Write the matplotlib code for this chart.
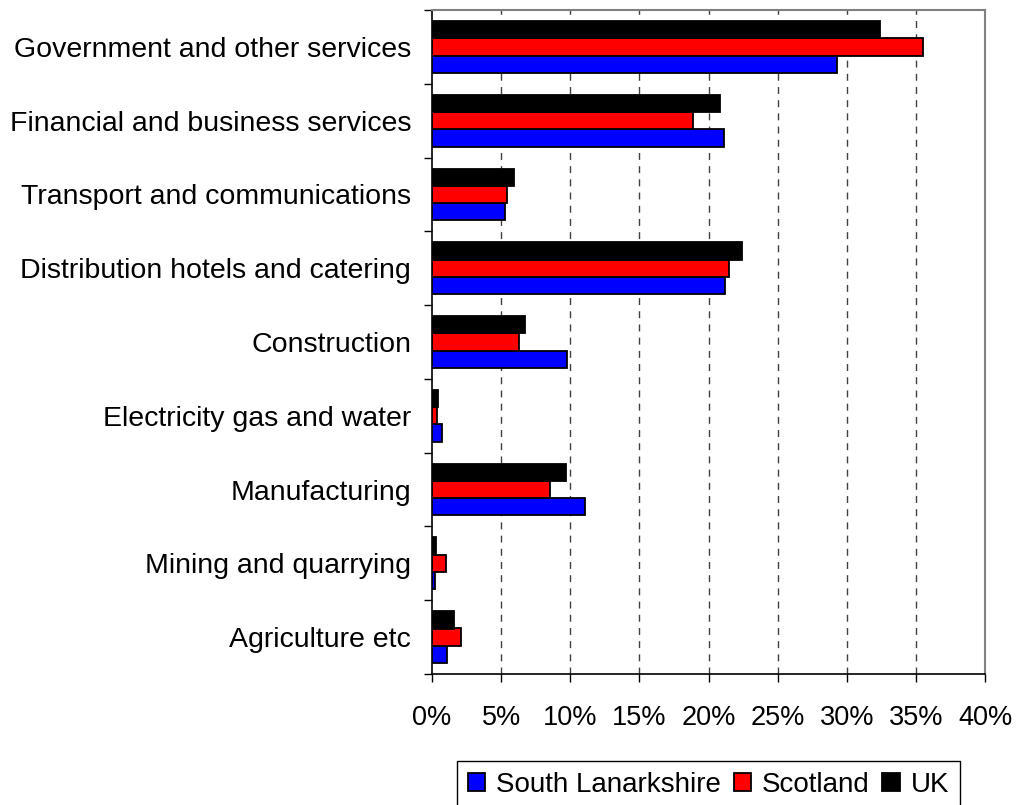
import numpy as np
import matplotlib
matplotlib.use("Agg")
import matplotlib.pyplot as plt
from matplotlib.patches import Patch

plt.rcParams['font.family'] = ['Liberation Sans', 'DejaVu Sans']

# sectors, bottom to top as drawn
sectors = ['Agriculture etc', 'Mining and quarrying', 'Manufacturing',
           'Electricity gas and water', 'Construction',
           'Distribution hotels and catering', 'Transport and communications',
           'Financial and business services', 'Government and other services']

# share of employment, %
south_lanarkshire = [1.1, 0.25, 11.1, 0.7, 9.8, 21.2, 5.3, 21.1, 29.3]
scotland = [2.1, 1.0, 8.5, 0.35, 6.3, 21.5, 5.4, 18.9, 35.5]
uk = [1.6, 0.27, 9.7, 0.4, 6.7, 22.4, 5.9, 20.8, 32.4]

series_names = ['South Lanarkshire', 'Scotland', 'UK']
colors = ['#0000ff', '#ff0000', '#000000']
x_ticks = [0, 5, 10, 15, 20, 25, 30, 35, 40]

fig = plt.figure(figsize=(10.18, 8.05), dpi=100)
ax = fig.add_axes([432 / 1018, 1 - 674 / 805, 553 / 1018, 664 / 805])

y = np.arange(len(sectors))
h = 0.235
for k, (vals, c) in enumerate(zip([south_lanarkshire, scotland, uk], colors)):
    ax.barh(y + (k - 1) * 0.233, vals, height=h, color=c,
            edgecolor='black', linewidth=1.3, zorder=3)

ax.set_xlim(0, 40)
ax.set_ylim(-0.5, len(sectors) - 0.5)

ax.set_xticks(x_ticks)
ax.set_xticklabels([f'{t}%' for t in x_ticks], fontsize=19.5)
ax.tick_params(axis='x', direction='out', length=6, width=1, pad=16)

ax.set_yticks(y)
ax.set_yticklabels(sectors, fontsize=20.5)
ax.tick_params(axis='y', which='major', length=0, pad=15)
ax.set_yticks(np.arange(-0.5, len(sectors), 1.0), minor=True)
ax.tick_params(axis='y', which='minor', direction='out', length=6, width=1)

for t in x_ticks[1:-1]:
    ax.axvline(t, color='#404040', linewidth=1.0, linestyle=(0, (5, 4.5)), zorder=1)

for s in ['left', 'bottom']:
    ax.spines[s].set_color('black')
    ax.spines[s].set_linewidth(1.2)
for s in ['top', 'right']:
    ax.spines[s].set_color('#808080')
    ax.spines[s].set_linewidth(1.5)

handles = [Patch(facecolor=c, edgecolor='black', linewidth=1.3) for c in colors]
leg = fig.legend(handles, series_names, loc='upper left',
                 bbox_to_anchor=(457 / 1018, 1 - 761 / 805), ncol=3,
                 fontsize=20, handlelength=0.62, handleheight=0.62,
                 handletextpad=0.4, columnspacing=0.45, borderpad=0.4,
                 borderaxespad=0, fancybox=False, framealpha=1)
leg.get_frame().set_edgecolor('black')
leg.get_frame().set_linewidth(1.0)

fig.savefig('out.png', dpi=100)
